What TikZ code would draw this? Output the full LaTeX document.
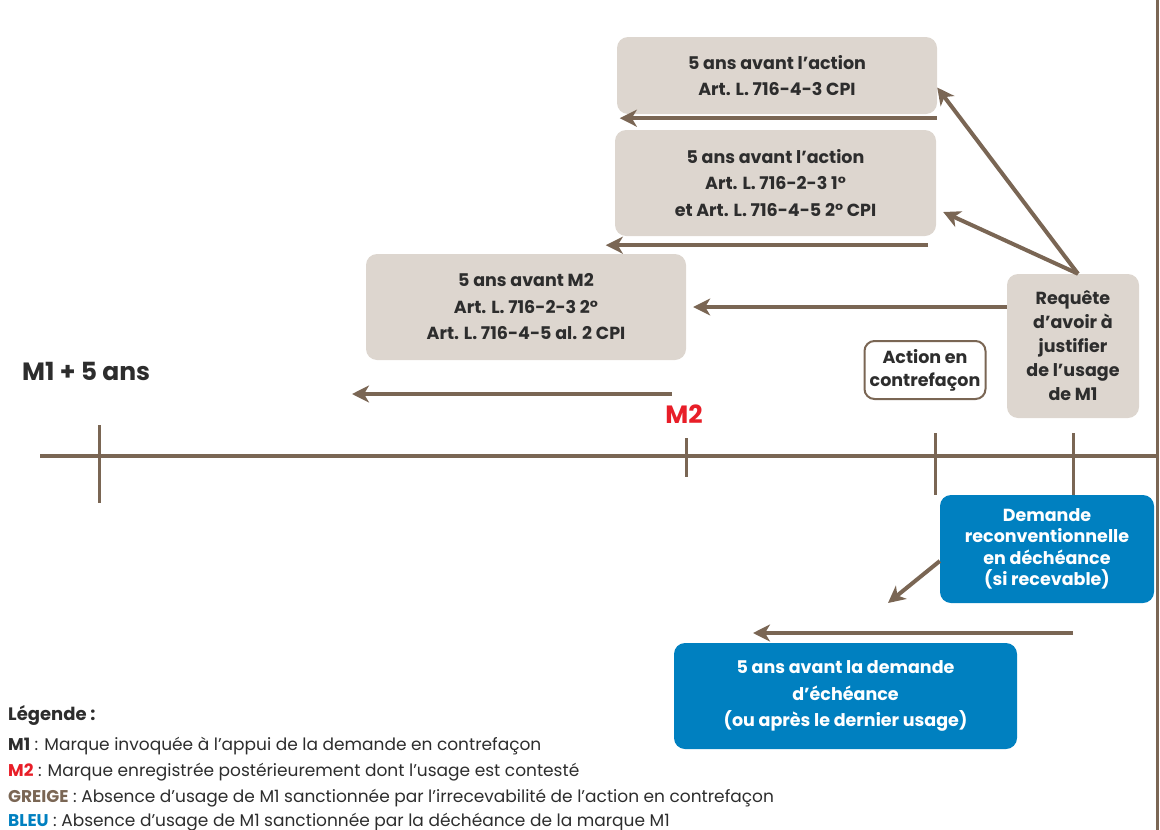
\documentclass[tikz,border=0pt]{standalone}
\usepackage{fontspec}
\setmainfont{Poppins}
\usetikzlibrary{arrows.meta,positioning}
\definecolor{brun}{RGB}{122,102,84}
\definecolor{greige}{RGB}{221,214,207}
\definecolor{bleu}{RGB}{0,128,192}
\definecolor{rouge}{RGB}{232,30,40}
\definecolor{texte}{RGB}{45,45,45}
\tikzset{
  fleche/.style={brun,line width=4pt,-{Stealth[length=17pt,width=17pt,inset=5pt]}},
  trait/.style={brun,line width=3pt},
  boite/.style={rounded corners=11pt,align=center,inner sep=0pt,
    font=\bfseries\fontsize{17.5}{26.5}\selectfont},
  grise/.style={boite,fill=greige,text=texte},
  bleue/.style={boite,fill=bleu,text=white},
  leg/.style={anchor=base west,inner sep=0pt,text=texte,font=\fontsize{17}{20}\selectfont}
}
\begin{document}
\begin{tikzpicture}[x=1pt,y=-1pt]
  \useasboundingbox (0,0) rectangle (1160,830);
  % axe du temps
  \draw[brun,line width=4pt] (40,456) -- (1157,456);
  \draw[trait] (1157,0) -- (1157,830);
  \coordinate (t1) at (99,456);
  \coordinate (t2) at (686,456);
  \coordinate (t3) at (935,456);
  \coordinate (t4) at (1073,456);
  \draw[trait] (99,425) -- (99,503);
  \draw[trait] (686,438) -- (686,477);
  \draw[trait] (935,433) -- (935,495);
  \draw[trait] (1073,433) -- (1073,495);
  \node[anchor=west,inner sep=0pt,text=texte,font=\bfseries\fontsize{25}{30}\selectfont] (m1) at (22,371) {M1 + 5 ans};
  \node[text=rouge,inner sep=0pt,font=\bfseries\fontsize{25}{30}\selectfont] (m2) at (684,414) {M2};
  % boites grises
  \node[grise,minimum width=320pt,minimum height=77pt] (action1) at (777,75.5)
    {5 ans avant l'action\\Art. L. 716-4-3 CPI};
  \node[grise,minimum width=321pt,minimum height=106pt] (action2) at (775.5,183)
    {5 ans avant l'action\\Art. L. 716-2-3 1°\\et Art. L. 716-4-5 2° CPI};
  \node[grise,minimum width=320pt,minimum height=106pt] (avantm2) at (526,307)
    {5 ans avant M2\\Art. L. 716-2-3 2°\\Art. L. 716-4-5 al. 2 CPI};
  \node[grise,minimum width=132pt,minimum height=144pt,font=\bfseries\fontsize{17.5}{24}\selectfont] (requete) at (1073,346)
    {Requête\\d'avoir à\\justifier\\de l'usage\\de M1};
  \node[boite,draw=brun,line width=2pt,fill=white,text=texte,minimum width=121pt,minimum height=58pt,
    rounded corners=10pt,font=\bfseries\fontsize{17.5}{23}\selectfont] (contrefacon) at (925,370)
    {Action en\\contrefaçon};
  % boites bleues
  \node[bleue,minimum width=214pt,minimum height=108pt,font=\bfseries\fontsize{17.5}{21.5}\selectfont] (demande) at (1047,549)
    {Demande\\reconventionnelle\\en déchéance\\(si recevable)};
  \node[bleue,minimum width=343pt,minimum height=106pt] (decheance) at (845.5,696)
    {5 ans avant la demande\\d'échéance\\(ou après le dernier usage)};
  % fleches
  \draw[fleche] ([yshift=-4pt]action1.south east) -- ([shift={(3,4)}]action1.south west);
  \draw[fleche] ([shift={(-8,9)}]action2.south east) -- ([shift={(-9,9)}]action2.south west);
  \draw[fleche] ([xshift=5pt]requete.north) -- ([shift={(0,12)}]action1.east);
  \draw[fleche] ([xshift=5pt]requete.north) -- ([shift={(7,29)}]action2.east);
  \draw[fleche] (requete.west |- avantm2.east) -- ([xshift=7pt]avantm2.east);
  \coordinate (debm2) at (672,394);
  \coordinate (finm2) at (352,394);
  \draw[fleche] (debm2) -- (finm2);
  \coordinate (findem) at (888,603);
  \draw[fleche] ([yshift=-12pt]demande.west) -- (findem);
  \coordinate (debdech) at (1073,633);
  \coordinate (findech) at (753,633);
  \draw[fleche] (debdech) -- (findech);
  % legende
  \node[leg,font=\bfseries\fontsize{18}{20}\selectfont] (legende) at (8,720) {Légende :};
  \node[leg] (legm1) at (8,750) {\textbf{M1} : Marque invoquée à l'appui de la demande en contrefaçon};
  \node[leg] (legm2) at (8,776) {\textbf{\color{rouge}M2} : Marque enregistrée postérieurement dont l'usage est contesté};
  \node[leg] (leggreige) at (8,802) {\textbf{\color{brun}GREIGE} : Absence d'usage de M1 sanctionnée par l'irrecevabilité de l'action en contrefaçon};
  \node[leg] (legbleu) at (8,826) {\textbf{\color{bleu}BLEU} : Absence d'usage de M1 sanctionnée par la déchéance de la marque M1};
\end{tikzpicture}
\end{document}
